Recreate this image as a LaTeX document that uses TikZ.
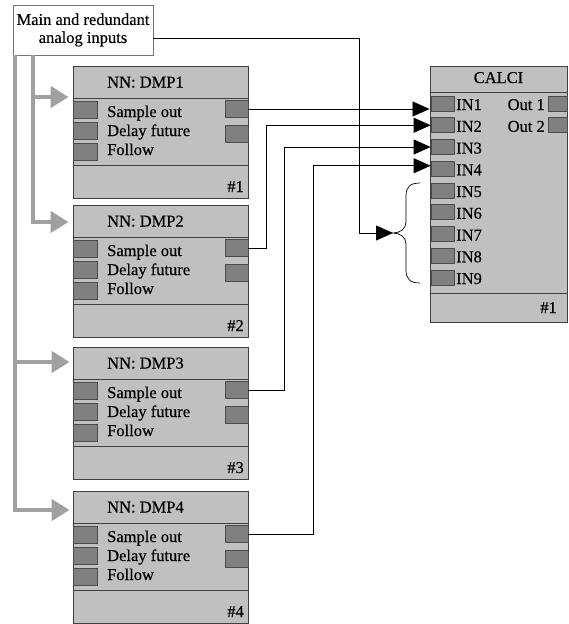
\documentclass[tikz,border=0pt]{standalone}
\usepackage{fontspec}
\setmainfont{Liberation Serif}[FakeBold=0.5]
\usetikzlibrary{arrows.meta}

\definecolor{boxgray}{RGB}{192,192,192}
\definecolor{portgray}{RGB}{128,128,128}
\definecolor{feedgray}{RGB}{160,160,160}

\begin{document}
\begin{tikzpicture}[
  x=1pt, y=-1pt,
  font=\fontsize{16.5}{18}\selectfont,
  blk/.style={draw=black!75, fill=boxgray, line width=0.9pt, inner sep=0pt},
  divline/.style={draw=black!75, line width=0.9pt},
  port/.style={draw=black!70, fill=portgray, line width=0.7pt, inner sep=0pt, minimum width=24pt, minimum height=17pt},
  lbl/.style={inner sep=0pt},
  inbox/.style={draw=black!55, fill=white, align=center, minimum width=140pt, minimum height=50pt, inner sep=0pt},
  feed/.style={-{Triangle[length=18pt,width=21pt]}, draw=feedgray, line width=4.5pt},
  sig/.style={-{Triangle[length=17pt,width=15pt]}, line width=0.8pt}
]
\useasboundingbox (0,0) rectangle (568,624);

\node[inbox] (inputs) at (83,30) {Main and redundant\\analog inputs};

% neural network blocks
\foreach \k/\t in {1/66,2/205,3/347,4/491}{
  \pgfmathsetmacro\yc{\t+66}
  \pgfmathsetmacro\ya{\t+32}
  \pgfmathsetmacro\yb{\t+99}
  \node[blk, minimum width=175pt, minimum height=132pt] (dmp\k) at (160.5,\yc) {};
  \draw[divline] (dmp\k.west |- 0,\ya) -- (dmp\k.east |- 0,\ya);
  \draw[divline] (dmp\k.west |- 0,\yb) -- (dmp\k.east |- 0,\yb);
  \pgfmathsetmacro\yt{\t+21.5}
  \node[lbl, anchor=base west] (dmp\k-title) at (107,\yt) {NN: DMP\k};
  \pgfmathsetmacro\pa{\t+44}
  \pgfmathsetmacro\pb{\t+65}
  \pgfmathsetmacro\pc{\t+86}
  \node[port] (dmp\k-in1) at (85,\pa) {};
  \node[port] (dmp\k-in2) at (85,\pb) {};
  \node[port] (dmp\k-in3) at (85,\pc) {};
  \pgfmathsetmacro\qa{\t+43}
  \pgfmathsetmacro\qb{\t+68}
  \node[port, minimum width=23pt] (dmp\k-out1) at (236.5,\qa) {};
  \node[port, minimum width=23pt] (dmp\k-out2) at (236.5,\qb) {};
  \pgfmathsetmacro\ra{\t+51}
  \pgfmathsetmacro\rb{\t+70}
  \pgfmathsetmacro\rc{\t+89}
  \node[lbl, anchor=base west] (dmp\k-row1) at (107,\ra) {Sample out};
  \node[lbl, anchor=base west] (dmp\k-row2) at (107,\rb) {Delay future};
  \node[lbl, anchor=base west] (dmp\k-row3) at (107,\rc) {Follow};
  \pgfmathsetmacro\rn{\t+126}
  \node[lbl, anchor=base east] (dmp\k-num) at (244,\rn) {\#\k};
}

% calculation block
\node[blk, minimum width=137pt, minimum height=256pt] (calci) at (498.5,194) {};
\draw[divline] (calci.west |- 0,92) -- (calci.east |- 0,92);
\draw[divline] (calci.west |- 0,293) -- (calci.east |- 0,293);
\node[lbl, anchor=base] (calci-title) at (498.5,83) {CALCI};
\foreach \i in {1,...,9}{
  \pgfmathsetmacro\yb{110+21.75*(\i-1)}
  \pgfmathsetmacro\yp{\yb-6.5}
  \node[port, minimum width=23pt, minimum height=15pt] (in\i) at (442.5,\yp) {};
  \node[lbl, anchor=base west] (in\i-lbl) at (456,\yb) {IN\i};
}
\node[port, minimum width=19pt, minimum height=15pt] (out1) at (557.5,103.5) {};
\node[port, minimum width=19pt, minimum height=15pt] (out2) at (557.5,125) {};
\node[lbl, anchor=base east] (out1-lbl) at (545,110) {Out 1};
\node[lbl, anchor=base east] (out2-lbl) at (545,131.75) {Out 2};
\node[lbl, anchor=base east] (calci-num) at (557,313) {\#1};

% input feeds
\draw[feed] (inputs.south -| 33,0) |- ([xshift=-4pt]dmp1.west |- 0,97);
\draw[feed] (inputs.south -| 33,0) |- ([xshift=-4pt]dmp2.west |- 0,222);
\draw[feed] (inputs.south -| 15,0) |- ([xshift=-3pt]dmp3.west |- 0,362);
\draw[feed] (inputs.south -| 15,0) |- ([xshift=-3pt]dmp4.west |- 0,510);

% sample outputs to CALCI
\draw[sig] (dmp1-out1.east) -- (dmp1-out1.east -| calci.west);
\draw[sig] (dmp2-out1.east) -- ++(18,0) |- (in2.west);
\draw[sig] (dmp3-out1.east) -- ++(36,0) |- (in3.west);
\draw[sig] (dmp4-out1.east) -- ++(65,0) |- ([yshift=3pt]in4.west);

% redundant inputs
\coordinate (bracetip) at (393,233);
\draw[line width=0.7pt] (420,183) .. controls (410,183) and (406,187) .. (406,196)
  -- (406,222) .. controls (406,229) and (400,233) .. (bracetip)
  .. controls (400,233) and (406,237) .. (406,244)
  -- (406,270) .. controls (406,279) and (410,283) .. (420,283);
\draw[sig] ([yshift=-8pt]inputs.east) -- ++(206,0) |- (bracetip);
\end{tikzpicture}
\end{document}
